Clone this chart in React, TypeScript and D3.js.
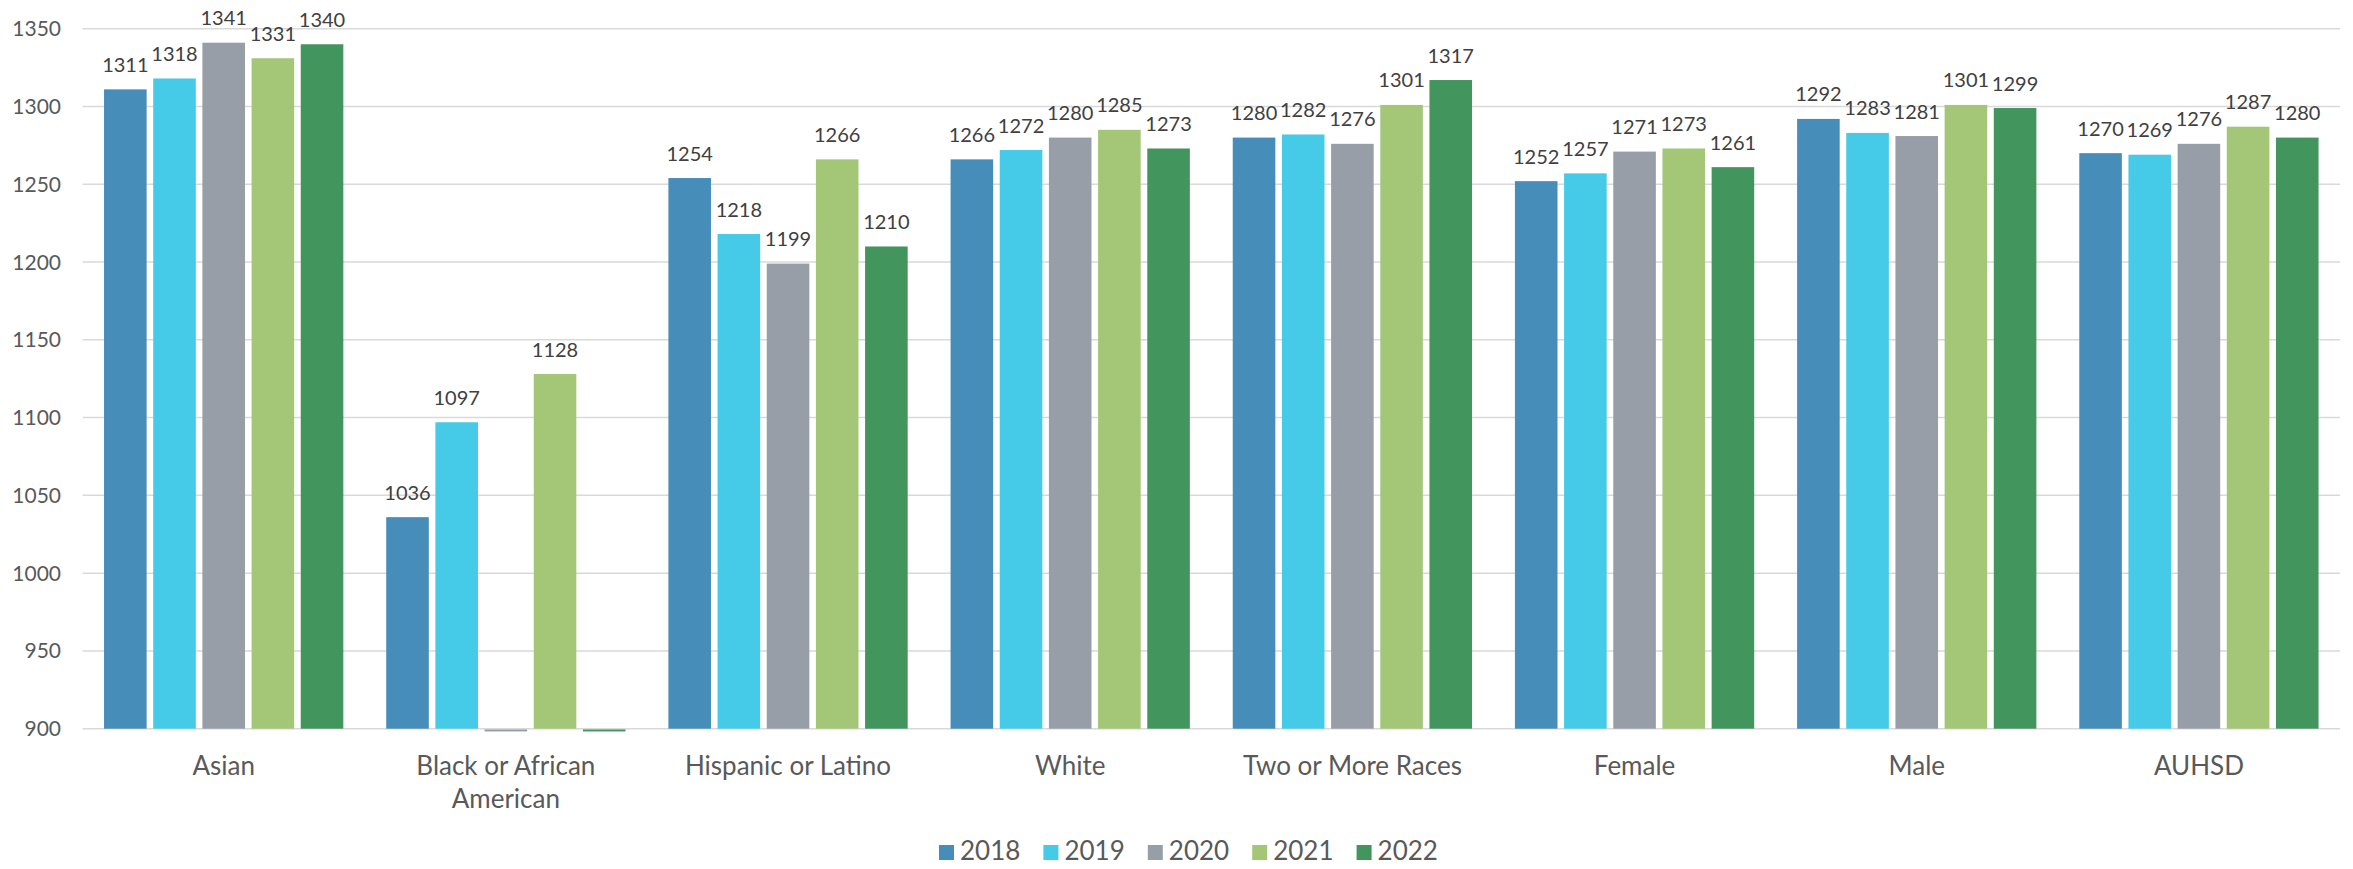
import * as React from "react"
import * as d3 from "d3"

const categories = [
  "Asian",
  "Black or African American",
  "Hispanic or Latino",
  "White",
  "Two or More Races",
  "Female",
  "Male",
  "AUHSD",
]
const years = ["2018", "2019", "2020", "2021", "2022"]

// one array per year, in category order (0 = no score, drawn as a stub)
const values2018 = [1311, 1036, 1254, 1266, 1280, 1252, 1292, 1270]
const values2019 = [1318, 1097, 1218, 1272, 1282, 1257, 1283, 1269]
const values2020 = [1341, 0, 1199, 1280, 1276, 1271, 1281, 1276]
const values2021 = [1331, 1128, 1266, 1285, 1301, 1273, 1301, 1287]
const values2022 = [1340, 0, 1210, 1273, 1317, 1261, 1299, 1280]

const yTicks = [900, 950, 1000, 1050, 1100, 1150, 1200, 1250, 1300, 1350]

const colors = ["#468eb9", "#45cae8", "#979ea8", "#a3c777", "#43955e"]

const WIDTH = 2353
const HEIGHT = 869
const FONT = "Lato, 'Open Sans', sans-serif"

function render(svgRef: React.RefObject<SVGSVGElement>) {
  const series = [values2018, values2019, values2020, values2021, values2022]
  const margin = { top: 28.7, right: 13, bottom: 140.3, left: 82.6 }
  const w = WIDTH - margin.left - margin.right
  const h = HEIGHT - margin.top - margin.bottom

  const svg = d3
    .select(svgRef.current)
    .attr("width", WIDTH)
    .attr("height", HEIGHT)
    .select("g")
    .attr("transform", `translate(${margin.left},${margin.top})`)

  svg.selectAll("*").remove()

  const x0 = d3.scaleBand().domain(categories).range([0, w]).padding(0)
  const groupPad = x0.bandwidth() * 0.076
  const x1 = d3
    .scaleBand()
    .domain(years)
    .range([groupPad, x0.bandwidth() - groupPad])
    .paddingInner(0.134)
    .paddingOuter(0)

  const yScale = d3.scaleLinear().domain([900, 1350]).range([h, 0])

  // gridlines
  svg
    .selectAll(".grid")
    .data(yTicks)
    .join("line")
    .attr("class", "grid")
    .attr("x1", 0)
    .attr("x2", w)
    .attr("y1", (d) => yScale(d))
    .attr("y2", (d) => yScale(d))
    .attr("stroke", "#d9d9d9")
    .attr("stroke-width", 1.5)

  svg
    .selectAll(".ytick")
    .data(yTicks)
    .join("text")
    .attr("class", "ytick")
    .attr("x", -21.6)
    .attr("y", (d) => yScale(d) + 7.5)
    .attr("text-anchor", "end")
    .attr("font-family", FONT)
    .attr("font-size", "21px")
    .attr("fill", "#595959")
    .text((d) => d)

  const groups = svg
    .selectAll(".group")
    .data(categories)
    .join("g")
    .attr("class", "group")
    .attr("transform", (d) => `translate(${x0(d)},0)`)

  const cells = groups
    .selectAll(".bar")
    .data((_d, ci) => years.map((yr, si) => ({ yr, si, v: series[si][ci] })))
    .join("g")
    .attr("class", "bar")

  cells
    .append("rect")
    .attr("x", (d) => x1(d.yr))
    .attr("width", x1.bandwidth())
    .attr("y", (d) => (d.v < 900 ? yScale(900) + 0.75 : yScale(d.v)))
    .attr("height", (d) => (d.v < 900 ? 2 : yScale(900) - yScale(d.v)))
    .attr("fill", (d) => colors[d.si])

  cells
    .filter((d) => d.v >= 900)
    .append("text")
    .attr("x", (d) => x1(d.yr) + x1.bandwidth() / 2)
    .attr("y", (d) => yScale(d.v) - 17.5)
    .attr("text-anchor", "middle")
    .attr("font-family", FONT)
    .attr("font-size", "20px")
    .attr("fill", "#404040")
    .text((d) => d.v)

  // category labels, wrapped like the original
  const wrapped: Record<string, string[]> = {
    "Black or African American": ["Black or African", "American"],
  }
  groups
    .append("text")
    .attr("text-anchor", "middle")
    .attr("font-family", FONT)
    .attr("font-size", "26px")
    .attr("fill", "#595959")
    .selectAll("tspan")
    .data((d) => wrapped[d] ?? [d])
    .join("tspan")
    .attr("x", x0.bandwidth() / 2)
    .attr("y", (_d, i) => h + 46.3 + i * 33)
    .text((d) => d)

  // legend
  const legendStep = 104.4
  const legend = d3
    .select(svgRef.current)
    .selectAll(".legend")
    .data([1])
    .join("g")
    .attr("class", "legend")
    .attr("transform", `translate(939, 845)`)
  legend.selectAll("*").remove()
  const items = legend
    .selectAll(".item")
    .data(years)
    .join("g")
    .attr("class", "item")
    .attr("transform", (_d, i) => `translate(${i * legendStep},0)`)
  items
    .append("rect")
    .attr("width", 15)
    .attr("height", 15)
    .attr("fill", (_d, i) => colors[i])
  items
    .append("text")
    .attr("x", 21)
    .attr("y", 15)
    .attr("font-family", FONT)
    .attr("font-size", "26px")
    .attr("fill", "#595959")
    .text((d) => d)
}

export default function App(): React.JSX.Element {
  const svg = React.useRef<SVGSVGElement>(null)

  React.useEffect(() => {
    document.body.style.margin = "0"
    render(svg)
  }, [])

  return (
    <svg ref={svg} style={{ display: "block", background: "#fff" }}>
      <g></g>
    </svg>
  )
}
